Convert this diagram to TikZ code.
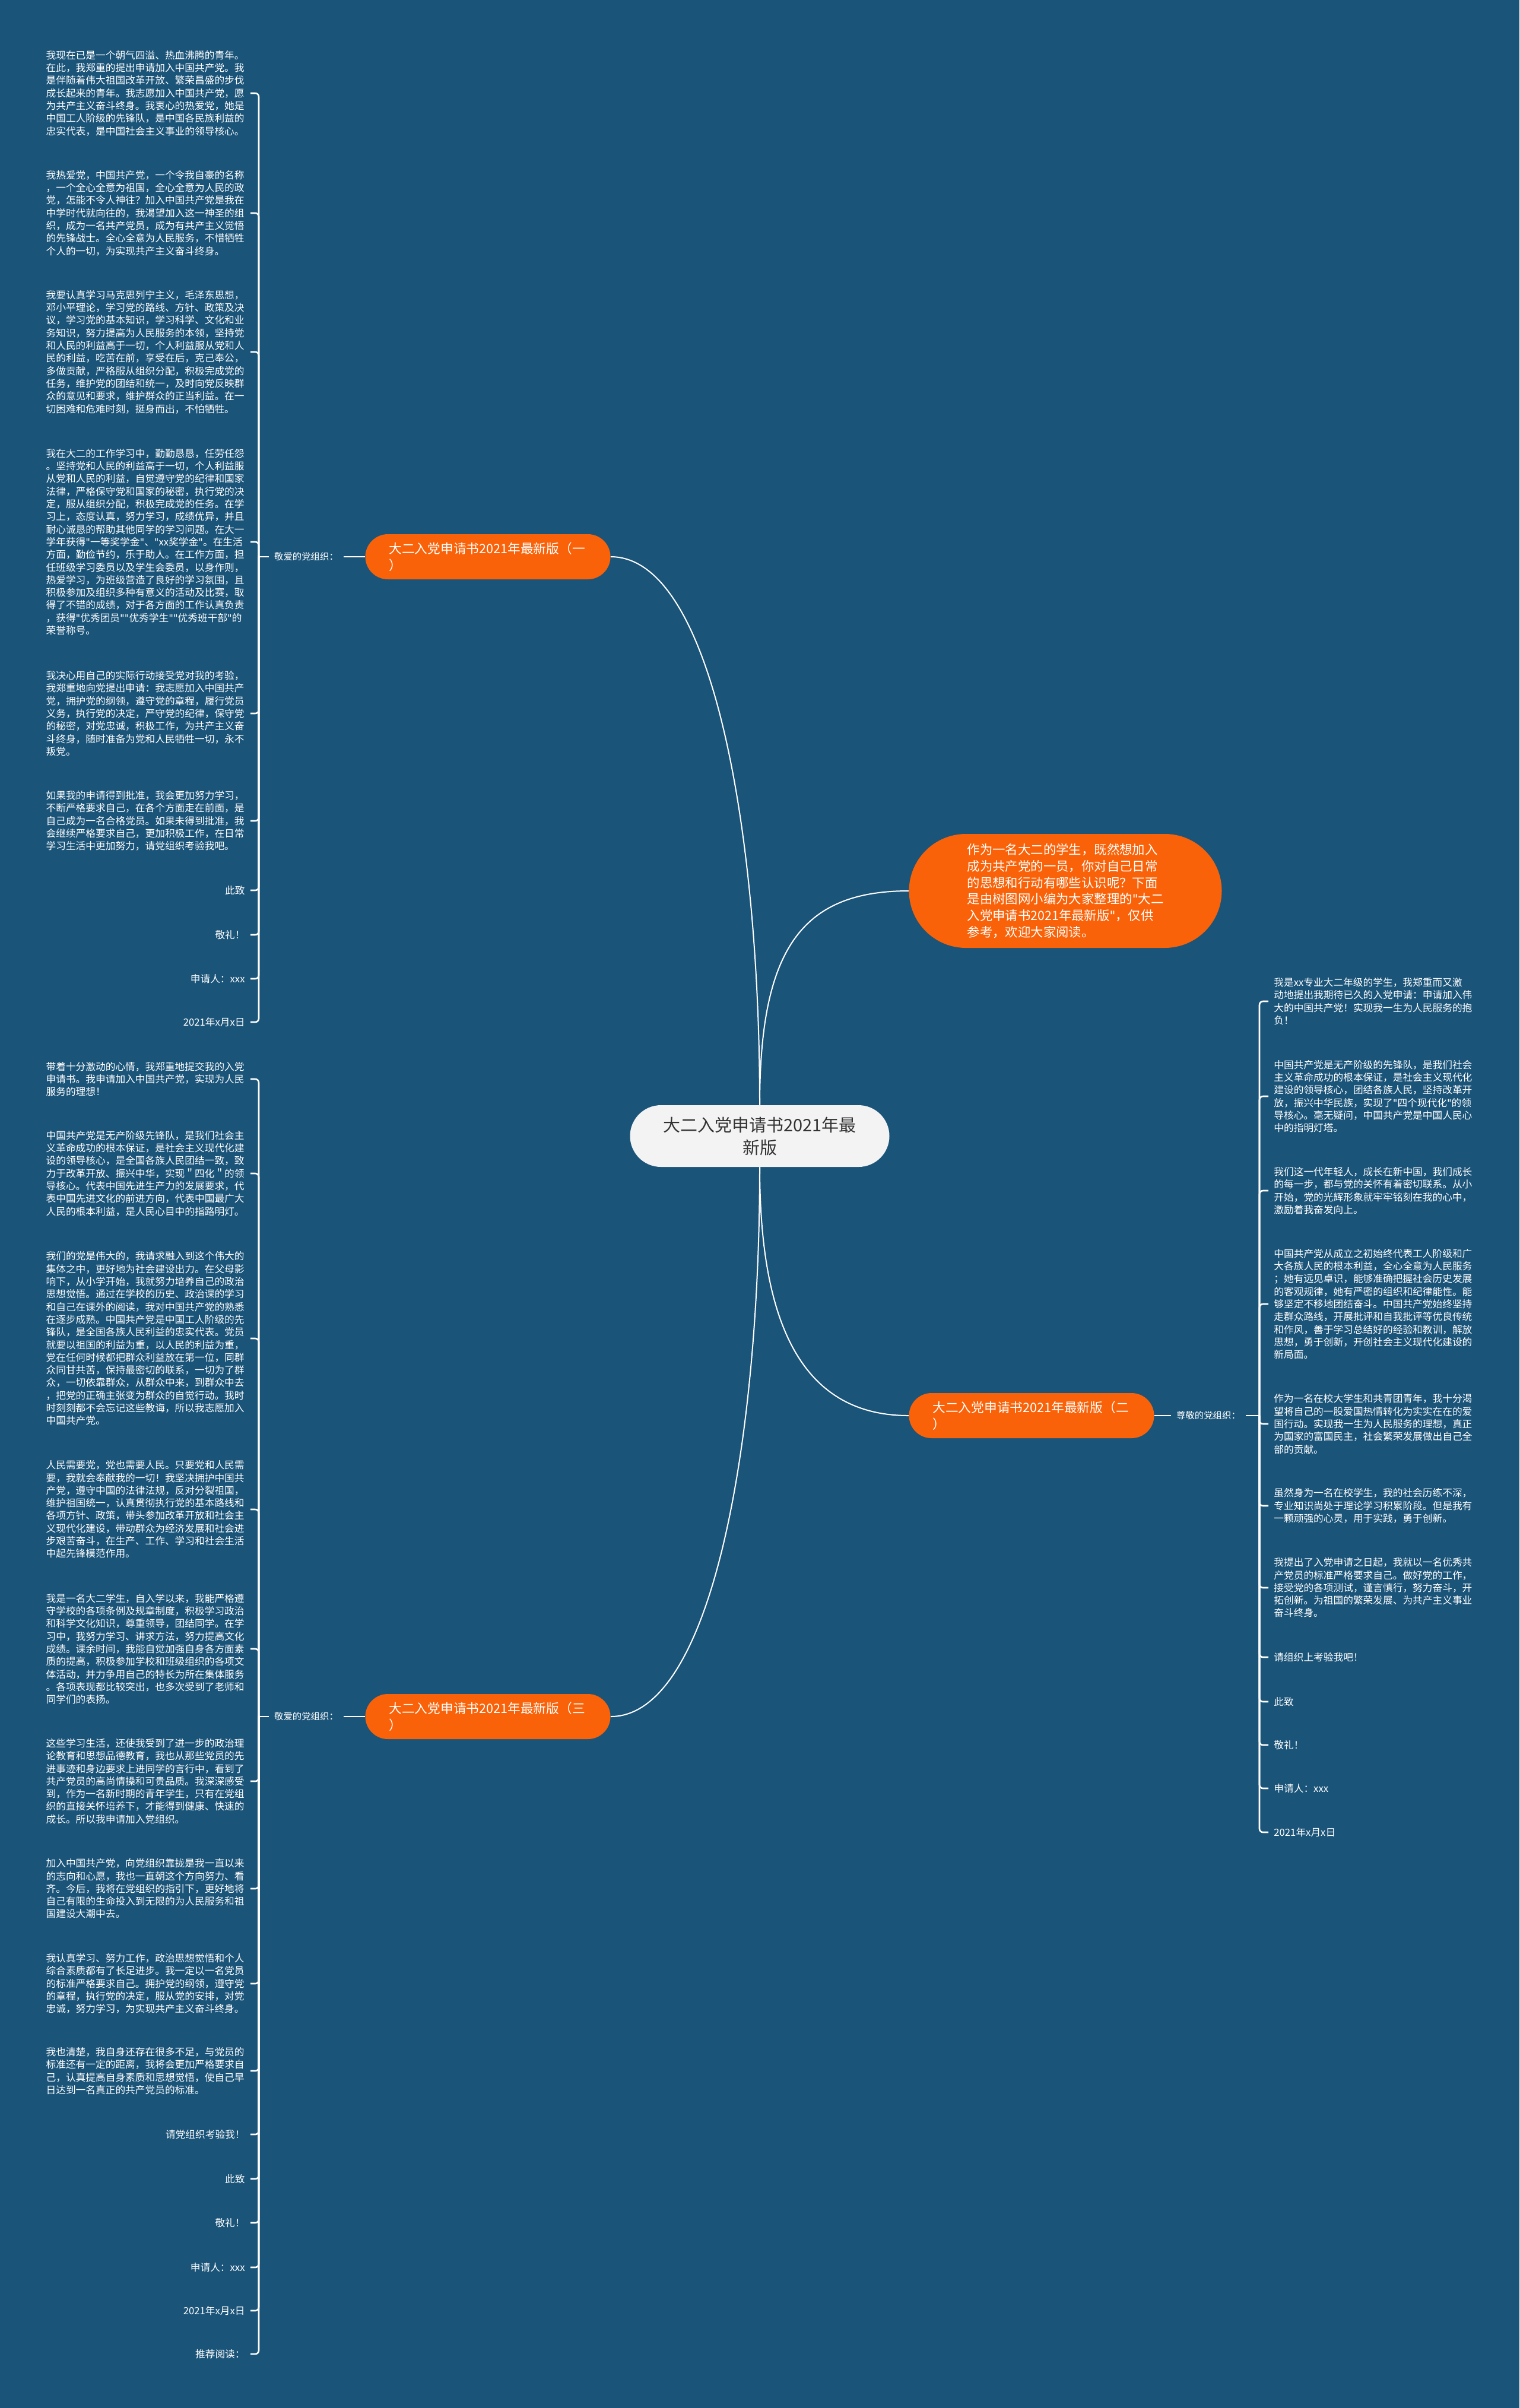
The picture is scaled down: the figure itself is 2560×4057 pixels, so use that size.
\documentclass[tikz,border=0pt]{standalone}
\usepackage{fontspec}
\setmainfont{Noto Sans CJK SC}
\newfontfamily\qfont{DejaVu Sans}
\newcommand\dq{{\qfont"}}
\definecolor{bgc}{RGB}{27,84,121}
\definecolor{orng}{RGB}{249,98,8}
\definecolor{ctrfill}{RGB}{243,243,243}
\definecolor{ctrtext}{RGB}{51,51,51}
\newcommand\ftxt{\fontsize{8.35pt}{10.65pt}\selectfont}
\newcommand\flab{\fontsize{7.7pt}{9.5pt}\selectfont}
\newcommand\fbr{\fontsize{10.85pt}{14.2pt}\selectfont}
\newcommand\fctr{\fontsize{14.5pt}{19pt}\selectfont}
\newcommand\fintro{\fontsize{10.7pt}{13.85pt}\selectfont}
\tikzset{
  curve/.style={draw=white, line width=1pt},
  brk/.style={draw=white, line width=1.3pt, rounded corners=3pt},
  stub/.style={draw=white, line width=1.3pt},
  txt/.style={font=\ftxt, text=white, inner xsep=4.5pt, inner ysep=0pt, align=left},
  ltxt/.style={txt, text width=167.5pt, anchor=east},
  rtxt/.style={txt, text width=167.5pt, anchor=west},
  lshort/.style={txt, anchor=east},
  rshort/.style={txt, anchor=west},
  lab/.style={font=\flab, text=white, inner xsep=4.5pt, inner ysep=1pt},
  branch/.style={fill=orng, text=white, font=\fbr, text width=166.5pt, align=left,
    inner xsep=20pt, inner ysep=0pt, minimum height=38pt, rounded corners=19pt},
  centre/.style={fill=ctrfill, text=ctrtext, font=\fctr, align=center, inner sep=0pt,
    minimum width=218.5pt, minimum height=52pt, rounded corners=26pt},
  introbox/.style={fill=orng, text=white, font=\fintro, align=left, inner sep=0pt,
    minimum width=263.5pt, minimum height=96pt, rounded corners=48pt}
}
\begin{document}
\begin{tikzpicture}[x=0.5pt,y=-0.5pt]
\fill[bgc] (0,0) rectangle (2560,4057);
\useasboundingbox (0,0) rectangle (2560,4057);

% central and main nodes
\node[centre] (c) at (1280,1914) {大二入党申请书2021年最\\新版};
\node[introbox] (intro) at (1795,1501) {作为一名大二的学生，既然想加入\\成为共产党的一员，你对自己日常\\的思想和行动有哪些认识呢？下面\\是由树图网小编为大家整理的\dq 大二\\入党申请书2021年最新版\dq ，仅供\\参考，欢迎大家阅读。};
\node[branch] (b1) at (822,938) {大二入党申请书2021年最新版（一\\）};
\node[branch] (b2) at (1738,2385) {大二入党申请书2021年最新版（二\\）};
\node[branch] (b3) at (822,2892) {大二入党申请书2021年最新版（三\\）};

\draw[curve] (c.north) .. controls (1280,1400) and (1200,938) .. (b1.east);
\draw[curve] (c.north) .. controls (1280,1600) and (1350,1501) .. (intro.west);
\draw[curve] (c.south) .. controls (1280,2228) and (1350,2385) .. (b2.west);
\draw[curve] (c.south) .. controls (1280,2428) and (1200,2892) .. (b3.east);

% labels
\node[lab] (l1) at (516,938) {敬爱的党组织：};
\node[lab] (l2) at (2036,2385) {尊敬的党组织：};
\node[lab] (l3) at (516,2892) {敬爱的党组织：};
\draw[stub] (b1.west) -- (l1.east);
\draw[stub] (b2.east) -- (l2.west);
\draw[stub] (b3.west) -- (l3.east);
\coordinate (k1) at (436,938);
\coordinate (k2) at (2122,2385);
\coordinate (k3) at (436,2892);
\draw[stub] (l1.west) -- (k1);
\draw[stub] (l2.east) -- (k2);
\draw[stub] (l3.west) -- (k3);

% branch 1 children
\node[ltxt] (a1) at (422,157) {我现在已是一个朝气四溢、热血沸腾的青年。\\在此，我郑重的提出申请加入中国共产党。我\\是伴随着伟大祖国改革开放、繁荣昌盛的步伐\\成长起来的青年。我志愿加入中国共产党，愿\\为共产主义奋斗终身。我衷心的热爱党，她是\\中国工人阶级的先锋队，是中国各民族利益的\\忠实代表，是中国社会主义事业的领导核心。};
\node[ltxt] (a2) at (422,359) {我热爱党，中国共产党，一个令我自豪的名称\\，一个全心全意为祖国，全心全意为人民的政\\党，怎能不令人神往？加入中国共产党是我在\\中学时代就向往的，我渴望加入这一神圣的组\\织，成为一名共产党员，成为有共产主义觉悟\\的先锋战士。全心全意为人民服务，不惜牺牲\\个人的一切，为实现共产主义奋斗终身。};
\node[ltxt] (a3) at (422,593) {我要认真学习马克思列宁主义，毛泽东思想，\\邓小平理论，学习党的路线、方针、政策及决\\议，学习党的基本知识，学习科学、文化和业\\务知识，努力提高为人民服务的本领，坚持党\\和人民的利益高于一切，个人利益服从党和人\\民的利益，吃苦在前，享受在后，克己奉公，\\多做贡献，严格服从组织分配，积极完成党的\\任务，维护党的团结和统一，及时向党反映群\\众的意见和要求，维护群众的正当利益。在一\\切困难和危难时刻，挺身而出，不怕牺牲。};
\node[ltxt] (a4) at (422,913) {我在大二的工作学习中，勤勤恳恳，任劳任怨\\。坚持党和人民的利益高于一切，个人利益服\\从党和人民的利益，自觉遵守党的纪律和国家\\法律，严格保守党和国家的秘密，执行党的决\\定，服从组织分配，积极完成党的任务。在学\\习上，态度认真，努力学习，成绩优异，并且\\耐心诚恳的帮助其他同学的学习问题。在大一\\学年获得\dq 一等奖学金\dq 、\dq xx奖学金\dq 。在生活\\方面，勤俭节约，乐于助人。在工作方面，担\\任班级学习委员以及学生会委员，以身作则，\\热爱学习，为班级营造了良好的学习氛围，且\\积极参加及组织多种有意义的活动及比赛，取\\得了不错的成绩，对于各方面的工作认真负责\\，获得\dq 优秀团员\dq\dq 优秀学生\dq\dq 优秀班干部\dq 的\\荣誉称号。};
\node[ltxt] (a5) at (422,1202) {我决心用自己的实际行动接受党对我的考验，\\我郑重地向党提出申请：我志愿加入中国共产\\党，拥护党的纲领，遵守党的章程，履行党员\\义务，执行党的决定，严守党的纪律，保守党\\的秘密，对党忠诚，积极工作，为共产主义奋\\斗终身，随时准备为党和人民牺牲一切，永不\\叛党。};
\node[ltxt] (a6) at (422,1383) {如果我的申请得到批准，我会更加努力学习，\\不断严格要求自己，在各个方面走在前面，是\\自己成为一名合格党员。如果未得到批准，我\\会继续严格要求自己，更加积极工作，在日常\\学习生活中更加努力，请党组织考验我吧。};
\node[lshort] (a7) at (422,1500) {此致};
\node[lshort] (a8) at (422,1575) {敬礼！};
\node[lshort] (a9) at (422,1649) {申请人：xxx};
\node[lshort] (a10) at (422,1722) {2021年x月x日};
\foreach \n in {a1,a2,a3,a4,a5,a6,a7,a8,a9,a10} \draw[brk] (k1) |- (\n.east);

% branch 2 children
\node[rtxt] (r1) at (2137,1687) {我是xx专业大二年级的学生，我郑重而又激\\动地提出我期待已久的入党申请：申请加入伟\\大的中国共产党！实现我一生为人民服务的抱\\负！};
\node[rtxt] (r2) at (2137,1847) {中国共产党是无产阶级的先锋队，是我们社会\\主义革命成功的根本保证，是社会主义现代化\\建设的领导核心，团结各族人民，坚持改革开\\放，振兴中华民族，实现了\dq 四个现代化\dq 的领\\导核心。毫无疑问，中国共产党是中国人民心\\中的指明灯塔。};
\node[rtxt] (r3) at (2137,2006) {我们这一代年轻人，成长在新中国，我们成长\\的每一步，都与党的关怀有着密切联系。从小\\开始，党的光辉形象就牢牢铭刻在我的心中，\\激励着我奋发向上。};
\node[rtxt] (r4) at (2137,2197) {中国共产党从成立之初始终代表工人阶级和广\\大各族人民的根本利益，全心全意为人民服务\\；她有远见卓识，能够准确把握社会历史发展\\的客观规律，她有严密的组织和纪律能性。能\\够坚定不移地团结奋斗。中国共产党始终坚持\\走群众路线，开展批评和自我批评等优良传统\\和作风，善于学习总结好的经验和教训，解放\\思想，勇于创新，开创社会主义现代化建设的\\新局面。};
\node[rtxt] (r5) at (2137,2399) {作为一名在校大学生和共青团青年，我十分渴\\望将自己的一股爱国热情转化为实实在在的爱\\国行动。实现我一生为人民服务的理想，真正\\为国家的富国民主，社会繁荣发展做出自己全\\部的贡献。};
\node[rtxt] (r6) at (2137,2537) {虽然身为一名在校学生，我的社会历练不深，\\专业知识尚处于理论学习积累阶段。但是我有\\一颗顽强的心灵，用于实践，勇于创新。};
\node[rtxt] (r7) at (2137,2675) {我提出了入党申请之日起，我就以一名优秀共\\产党员的标准严格要求自己。做好党的工作，\\接受党的各项测试，谨言慎行，努力奋斗，开\\拓创新。为祖国的繁荣发展、为共产主义事业\\奋斗终身。};
\node[rshort] (r8) at (2137,2792) {请组织上考验我吧！};
\node[rshort] (r9) at (2137,2867) {此致};
\node[rshort] (r10) at (2137,2940) {敬礼！};
\node[rshort] (r11) at (2137,3013) {申请人：xxx};
\node[rshort] (r12) at (2137,3087) {2021年x月x日};
\foreach \n in {r1,r2,r3,r4,r5,r6,r7,r8,r9,r10,r11,r12} \draw[brk] (k2) |- (\n.west);

% branch 3 children
\node[ltxt] (q1) at (422,1818) {带着十分激动的心情，我郑重地提交我的入党\\申请书。我申请加入中国共产党，实现为人民\\服务的理想！};
\node[ltxt] (q2) at (422,1977) {中国共产党是无产阶级先锋队，是我们社会主\\义革命成功的根本保证，是社会主义现代化建\\设的领导核心，是全国各族人民团结一致，致\\力于改革开放、振兴中华，实现＂四化＂的领\\导核心。代表中国先进生产力的发展要求，代\\表中国先进文化的前进方向，代表中国最广大\\人民的根本利益，是人民心目中的指路明灯。};
\node[ltxt] (q3) at (422,2255) {我们的党是伟大的，我请求融入到这个伟大的\\集体之中，更好地为社会建设出力。在父母影\\响下，从小学开始，我就努力培养自己的政治\\思想觉悟。通过在学校的历史、政治课的学习\\和自己在课外的阅读，我对中国共产党的熟悉\\在逐步成熟。中国共产党是中国工人阶级的先\\锋队，是全国各族人民利益的忠实代表。党员\\就要以祖国的利益为重，以人民的利益为重，\\党在任何时候都把群众利益放在第一位，同群\\众同甘共苦，保持最密切的联系，一切为了群\\众，一切依靠群众，从群众中来，到群众中去\\，把党的正确主张变为群众的自觉行动。我时\\时刻刻都不会忘记这些教诲，所以我志愿加入\\中国共产党。};
\node[ltxt] (q4) at (422,2543) {人民需要党，党也需要人民。只要党和人民需\\要，我就会奉献我的一切！我坚决拥护中国共\\产党，遵守中国的法律法规，反对分裂祖国，\\维护祖国统一，认真贯彻执行党的基本路线和\\各项方针、政策，带头参加改革开放和社会主\\义现代化建设，带动群众为经济发展和社会进\\步艰苦奋斗，在生产、工作、学习和社会生活\\中起先锋模范作用。};
\node[ltxt] (q5) at (422,2778) {我是一名大二学生，自入学以来，我能严格遵\\守学校的各项条例及规章制度，积极学习政治\\和科学文化知识，尊重领导，团结同学。在学\\习中，我努力学习、讲求方法，努力提高文化\\成绩。课余时间，我能自觉加强自身各方面素\\质的提高，积极参加学校和班级组织的各项文\\体活动，并力争用自己的特长为所在集体服务\\。各项表现都比较突出，也多次受到了老师和\\同学们的表扬。};
\node[ltxt] (q6) at (422,3001) {这些学习生活，还使我受到了进一步的政治理\\论教育和思想品德教育，我也从那些党员的先\\进事迹和身边要求上进同学的言行中，看到了\\共产党员的高尚情操和可贵品质。我深深感受\\到，作为一名新时期的青年学生，只有在党组\\织的直接关怀培养下，才能得到健康、快速的\\成长。所以我申请加入党组织。};
\node[ltxt] (q7) at (422,3182) {加入中国共产党，向党组织靠拢是我一直以来\\的志向和心愿，我也一直朝这个方向努力、看\\齐。今后，我将在党组织的指引下，更好地将\\自己有限的生命投入到无限的为人民服务和祖\\国建设大潮中去。};
\node[ltxt] (q8) at (422,3342) {我认真学习、努力工作，政治思想觉悟和个人\\综合素质都有了长足进步。我一定以一名党员\\的标准严格要求自己。拥护党的纲领，遵守党\\的章程，执行党的决定，服从党的安排，对党\\忠诚，努力学习，为实现共产主义奋斗终身。};
\node[ltxt] (q9) at (422,3489) {我也清楚，我自身还存在很多不足，与党员的\\标准还有一定的距离，我将会更加严格要求自\\己，认真提高自身素质和思想觉悟，使自己早\\日达到一名真正的共产党员的标准。};
\node[lshort] (q10) at (422,3596) {请党组织考验我！};
\node[lshort] (q11) at (422,3671) {此致};
\node[lshort] (q12) at (422,3745) {敬礼！};
\node[lshort] (q13) at (422,3820) {申请人：xxx};
\node[lshort] (q14) at (422,3893) {2021年x月x日};
\node[lshort] (q15) at (422,3966) {推荐阅读：};
\foreach \n in {q1,q2,q3,q4,q5,q6,q7,q8,q9,q10,q11,q12,q13,q14,q15} \draw[brk] (k3) |- (\n.east);
\end{tikzpicture}
\end{document}
